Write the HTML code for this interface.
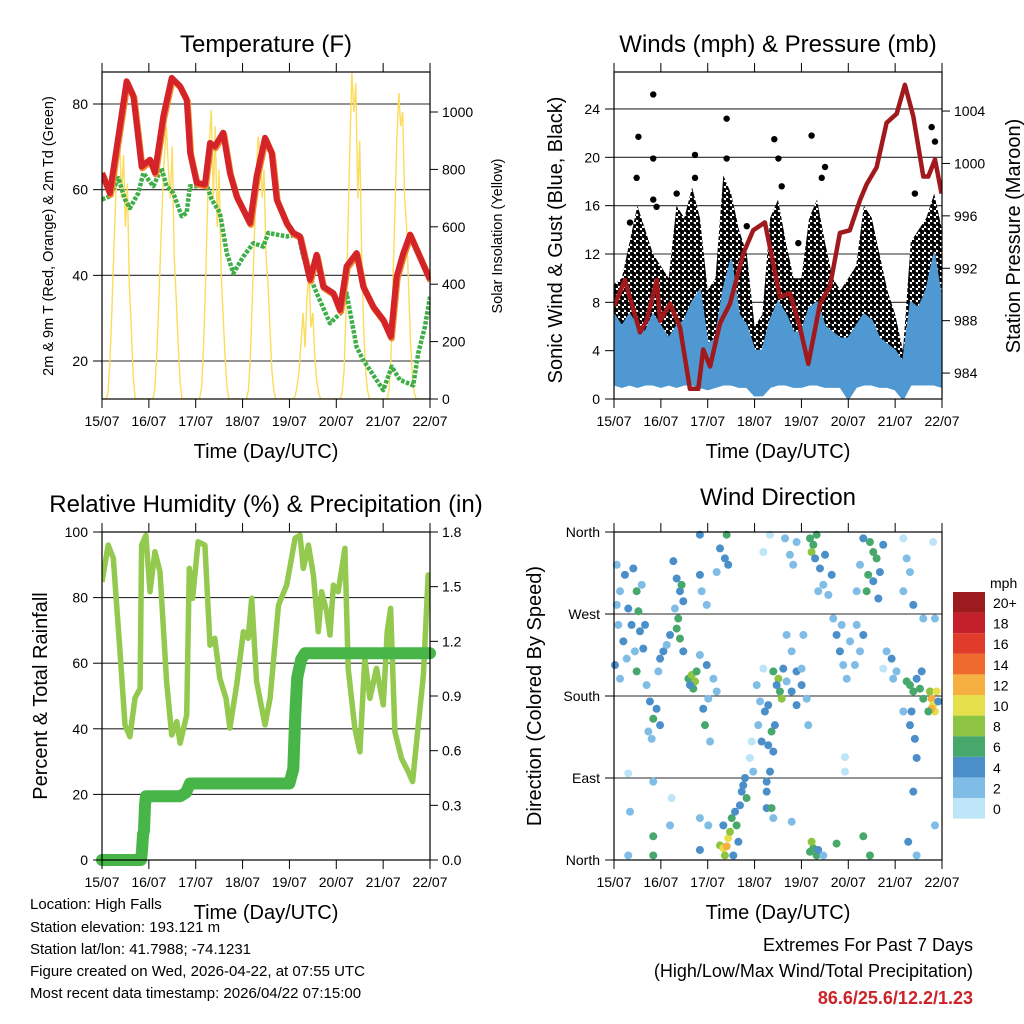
<!DOCTYPE html>
<html><head><meta charset="utf-8"><title>Station Meteogram</title>
<style>
html,body{margin:0;padding:0;background:#fff;}
svg{display:block;font-family:"Liberation Sans",Arial,sans-serif;}
</style></head>
<body>
<svg id="chart" width="1024" height="1024" viewBox="0 0 1024 1024" xmlns="http://www.w3.org/2000/svg">
<defs>
<clipPath id="clip1"><rect x="102" y="72" width="328" height="327"/></clipPath>
<clipPath id="clip2"><rect x="614" y="72" width="328" height="327"/></clipPath>
<clipPath id="clip3"><rect x="102" y="532" width="328" height="328"/></clipPath>
<clipPath id="clip4"><rect x="610" y="528" width="336" height="336"/></clipPath>
<pattern id="gustDots" width="6" height="6" patternUnits="userSpaceOnUse">
<rect width="6" height="6" fill="#fff"/>
<circle cx="1.5" cy="1.5" r="2.5" fill="#000"/>
<circle cx="4.5" cy="4.5" r="2.5" fill="#000"/>
</pattern>
</defs>
<rect x="0" y="0" width="1024" height="1024" fill="#fff"/>
<g id="layer-grid"></g>
<g id="layer-data"></g>
<g id="layer-axes"></g>

<text x="266" y="52" font-size="24" text-anchor="middle">Temperature (F)</text>
<text x="778" y="52" font-size="24" text-anchor="middle">Winds (mph) &amp; Pressure (mb)</text>
<text x="266" y="512" font-size="24" text-anchor="middle">Relative Humidity (%) &amp; Precipitation (in)</text>
<text x="778" y="505" font-size="24" text-anchor="middle">Wind Direction</text>

<text x="266" y="458" font-size="20" text-anchor="middle">Time (Day/UTC)</text>
<text x="778" y="458" font-size="20" text-anchor="middle">Time (Day/UTC)</text>
<text x="266" y="919" font-size="20" text-anchor="middle">Time (Day/UTC)</text>
<text x="778" y="919" font-size="20" text-anchor="middle">Time (Day/UTC)</text>

<text transform="translate(53,236) rotate(-90)" font-size="14.5" text-anchor="middle">2m &amp; 9m T (Red, Orange) &amp; 2m Td (Green)</text>
<text transform="translate(502,236) rotate(-90)" font-size="14.5" text-anchor="middle">Solar Insolation (Yellow)</text>
<text transform="translate(562,240) rotate(-90)" font-size="20" text-anchor="middle">Sonic Wind &amp; Gust (Blue, Black)</text>
<text transform="translate(1020,236) rotate(-90)" font-size="20" text-anchor="middle">Station Pressure (Maroon)</text>
<text transform="translate(47,696) rotate(-90)" font-size="20" text-anchor="middle">Percent &amp; Total Rainfall</text>
<text transform="translate(541,696) rotate(-90)" font-size="20" text-anchor="middle">Direction (Colored By Speed)</text>

<g font-size="15">
<text x="30" y="909">Location: High Falls</text>
<text x="30" y="932">Station elevation: 193.121 m</text>
<text x="30" y="954">Station lat/lon: 41.7988; -74.1231</text>
<text x="30" y="976">Figure created on Wed, 2026-04-22, at 07:55 UTC</text>
<text x="30" y="998">Most recent data timestamp: 2026/04/22 07:15:00</text>
</g>
<g font-size="18" text-anchor="end">
<text x="973" y="951">Extremes For Past 7 Days</text>
<text x="973" y="977">(High/Low/Max Wind/Total Precipitation)</text>
<text x="973" y="1004" font-weight="bold" fill="#cc2229">86.6/25.6/12.2/1.23</text>
</g>
<g id="legend">
<text x="990" y="588" font-size="14">mph</text>
</g>
</svg>

<script>
// ---------- DATA ----------
const dayLabels = ['15/07','16/07','17/07','18/07','19/07','20/07','21/07','22/07'];
const tempTicks = [20,40,60,80];
const solarTicks = [0,200,400,600,800,1000];
const windTicks = [0,4,8,12,16,20,24];
const pressTicks = [984,988,992,996,1000,1004];
const rhTicks = [0,20,40,60,80,100];
const precipTicks = ['0.0','0.3','0.6','0.9','1.2','1.5','1.8'];
const dirTicks = ['North','East','South','West','North'];
const speedBins = ['0','2','4','6','8','10','12','14','16','18','20+'];
const speedColors = ['#bde4f7','#80bde6','#4b8fca','#47a86c','#8dc441','#e6e04c','#f6b042','#ee6a2d','#e03b2b','#c4202b','#9b1b1f'];

// Temperature (F), hours since 15/07 00 UTC
const tempHours = [0,4,8.4,12.6,16.1,20.3,24.6,27.1,31.4,35.7,39.9,43.4,45.1,48.5,52.7,55.3,57.8,62.1,65.5,69,75.8,79.2,83.5,86.9,89.5,94.6,98,101.4,106.5,109.9,113.3,118.5,121.9,125.3,130.4,133.8,138.9,144.1,147.9,150.9,154.3,157.8,161.2,165.4,168];
const tempVals  = [63.9,59.2,72.5,85.3,81.8,65.4,67,64,77.1,86.1,84.2,81,68.6,61.6,61.2,70.9,70.1,73.3,63.9,58.4,52.2,63.1,72.1,68.6,57.7,52.2,49.9,49.1,39,44.8,37.4,35.8,31.9,42.1,45.2,37.4,32.7,29.6,25.7,39.7,45.2,49.5,46,41.7,39];
const dewHours = [0,4,8.4,11.8,14.3,18.6,21.2,26.3,30.5,33.1,36.5,40.8,43.4,45,49,53.6,56.2,60.4,63.9,67.3,72.4,77.5,82.6,85.2,89.5,94.6,100.6,103.1,106.5,110,116.8,121.9,125.3,130.4,133.8,137.2,144.1,148.4,152.6,159.4,162,165.4,168];
const dewVals  = [57.7,58.5,62.7,57.7,55.7,59.2,63.9,60.8,65,60.8,59.2,53.8,54.6,60.8,60.8,61.2,57.7,54.6,45.2,40.5,44.4,47.5,46.7,49.9,49.5,49.1,49.5,44.4,39.7,35.8,28.8,31.1,35.8,23.3,20.2,17.9,13.2,18.7,15.6,14.3,21.9,28,35];
// Solar insolation (W/m2), hourly
const solarDay0 = [0,0,0,20,120,300,500,700,820,914,700,850,600,750,400,250,80,0,0,0,0,0,0,0];
const solarDay1 = [0,0,0,30,150,320,520,700,850,950,800,700,880,500,350,200,60,0,0,0,0,0,0,0];
const solarDay2 = [0,0,0,40,180,400,650,900,1007,700,950,600,800,450,300,150,40,0,0,0,0,0,0,0];
const solarDay3 = [0,0,0,30,150,350,550,780,914,850,700,800,500,400,250,100,30,0,0,0,0,0,0,0];
const solarDay4 = [0,0,0,10,50,100,200,300,180,350,438,250,300,150,60,20,0,0,0,0,0,0,0,0];
const solarDay5 = [0,0,0,20,100,300,600,900,1136,1000,1100,700,900,500,250,100,30,0,0,0,0,0,0,0];
const solarDay6 = [0,0,0,30,150,400,650,900,1066,950,1000,700,600,400,200,80,20,0,0,0,0,0,0,0];

// Winds (mph), 4-hourly envelopes
const gustHi = [9.5,10,13,16,14,12,11,10,16,15,17.5,15,9,10,18.5,17,14,12,6,7,15,16.5,13,10,10,15,16.5,13,10,9,10,11,16,15,12,9,7,4,13,14,15,17,14];
const gustLo = [3,3,3,3,3,3,3,3,3,3,3,3,2.5,2.5,3,3,3,3,1.5,1.5,3,3,3,3,3,3,3,3,3,3,2.5,3,3,3,3,2.5,2,1.5,3,3,3,3,3];
const windHi = [7,6,7,6,5.5,7,6,5,6,6.5,8,9,4.5,5,9,11.5,7,6,4,4,6.5,8,7,5.5,5.5,7.5,8,6,5.5,5,5,6,7,6.5,5,4.5,4,3,8,7.5,9,12,8];
const windLo = [1.2,1,1.2,1,1.2,1.2,1,1.2,1,1.2,1.2,1,0.8,1,1.2,1.2,1,1,0.3,0.3,1,1.2,1.2,1,1,1.2,1.2,1,1,1,0,1,1.2,1.2,1,1,0.8,0,1.2,1.2,1.2,1.2,1];
const gustOutHours = [20.1,12.5,57.7,82.1,101.2,41.5,20.1,84.2,108.1,162.7,164.4,154.1,20.1,8.2,94.4,11.6,57.7,41.5,106.4,85.9,68,32.1,21.8];
const gustOutVals  = [25.2,21.7,23.2,21.5,21.8,20.2,19.9,19.9,19.2,22.5,21.3,17,16.5,14.6,12.9,18.3,19.9,18.3,18.3,17.6,14.3,17,15.9];
// Pressure (mb)
const pressHours = [0,5.6,13.3,16.7,21.9,23.6,28.7,33.8,38.9,43.2,45.7,49.2,54.3,59.4,66.2,71.3,77.3,85,90.1,95.2,99.5,105.5,110.6,115.7,120.8,126,129.4,134.5,139.6,144.8,149,153.3,158.4,161,164.4,167.8];
const pressVals  = [989.1,991.1,987.1,988,991.1,988,989.3,987.5,982.8,982.8,985.8,984.5,987.8,989.3,993.1,994.9,995.5,989.8,990.1,987.5,984.7,989.3,990.6,994.7,994.9,997.2,998.4,999.7,1003.1,1003.8,1006,1003.6,999,999,1000.3,997.7];

// Relative humidity (%) and precipitation (in)
const rhHours = [0,3.2,5.8,9.2,11.8,14.3,16.9,19.5,20.3,22.5,24.6,27.1,29.7,33.1,35.7,38.3,40,43.4,44.7,46.4,49.2,52.7,55.3,57.8,60.4,63.5,65.5,69,72.4,74.9,76.7,79.2,83.5,86.1,90.4,94.6,98.9,101.4,103.1,105.7,108.3,110.8,112.5,115.1,116.8,118.5,121,124.4,126.1,129.5,132.1,134.6,137.2,140.6,144.1,146.1,147.8,150,153.4,156.9,159.1,162,164.6,167.1,168];
const rhVals  = [84.8,96,92,63.5,41.2,37.6,49.4,52.3,96,99,81.8,94,87.9,54.4,38.1,42.2,35.6,44.2,88.9,79.8,97,96,65.5,67.6,55.3,49.3,40.2,53.4,69.6,67.6,79.8,54.4,41.2,49.3,77.7,83.8,98.1,99,88.9,96,86.9,69.6,81.8,75.7,68.6,83.8,81.8,95,58.4,40.2,33,61.5,49.3,58.4,47.3,69.6,76.7,39.1,31,26.9,23.9,41.2,56.4,86.9,80];
const precipHours = [0,20,20.5,21,21.5,22,22.5,40,43,45,96,98,99,100,102,104,168];
const precipVals  = [0,0,0.05,0.14,0.16,0.3,0.35,0.35,0.37,0.42,0.42,0.5,0.8,1.0,1.1,1.135,1.135];

// Wind direction observations
const dirHours = [1.4,3.1,5.6,2.2,4.8,0.5,3.1,6.5,1.4,7.3, 9.9,11.6,12.5,13.3,15,10.7,14.2,9,11.6,15.9, 16.7,18.4,20.1,21.8,19.3,23.6,17.6, 23.6,25.3,27,28.7,22.7, 30.4,32.1,33.8,34.6,32.9,35.5,31.2, 32.1,33.8,35.5, 38.1,39.8,41.5,40.6,42.3,38.9, 44,47.5,50.9,45.7,46.6,49.2,52.6,48.3, 44,44,47.5,44.9, 54.3,56.8,57.7,58.5,52.6, 54.3,56,57.7,58.5,56.8,59.4,60.3,62,62.8,64.5,65.4,66.2,67.1,67.9,63.7,61.1,56,48.3,44, 69.6,70.5,71.3, 73.1,73.9,75.6,74.8,76.5, 77.3,79,80.7,81.6,79.9,78.2,78.2,81.6,79,82.4,80.7,78.2, 81.6,84.2,85,85.9,83.3,86.7,88.4, 88.4,91,93.5,96.1,98.7,99.5,93.5,96.1,91,97, 87.6,90.1,93.5,91.8,79.9,76.5, 100.4,102.1,103.8,101.2,103,105.5,107.2,109.8,104.6,108.1,111.5, 112.3,114,115.7,117.4,119.2,120.9,116.6, 100.4,102.1,103.8,101.2,104.6,107.2,114, 127.7,131.1,132.8,134.5,130.2,129.4,132.8,135.4,126,137.9,136.2,124.3, 124.3,126,127.7,123.4, 139.6,142.2,144.7,143,137.9, 149.9,151.6,153.3,155,156.7,152.4,154.1,155,148.2,151.6,158.4,157.6, 161.8,162.7,163.5,164.4,162.7,165.2,161,166.1, 148.2,149.9,151.6,148.2,158.4,164.4,163.5,153.3, 7.3,20.1,20.1,8.2,29.5,28.7,44,91,127.7,131.1,150.7,153.3,118.3,118.3,7.3,20.1,155,164.4];
const dirDegs = [324,295,313,258,240,214,199,221,280,276, 320,295,273,251,232,229,302,258,207,258, 192,174,155,166,133,148,141, 221,229,236,247,207, 328,309,295,302,265,284,276, 254,243,229, 199,203,196,188,207,192, 225,214,199,166,148,130,185,177, 357,313,280,295, 342,331,357,324,316, 16,13,15,24,5,31,46,53,38,60,75,82,90,68,20,5,38,38,11, 112,130,97, 192,148,130,174,210, 163,170,141,119,97,75,57,46,126,148,57,86, 207,199,185,177,192,210,196, 247,229,207,192,177,148,170,210,185,247, 353,335,349,324,357,338, 353,346,357,338,331,320,302,291,295,335,313, 265,247,229,214,199,240,258, 9,13,5,20,11,5,18, 353,349,338,331,313,295,306,287,324,346,316,295, 258,229,247,214, 229,221,207,199,210, 196,192,185,199,188,163,133,112,163,148,177,207, 185,177,170,163,166,185,163,174, 353,331,316,295,265,265,349,280, 5,5,26,53,68,38,46,42,26,5,20,75,113,97,95,86,5,38];
const dirSpeeds = [2,2,4,2,4,4,2,2,2,4, 4,6,6,4,4,2,2,4,6,4, 2,4,6,4,2,4,2, 4,4,2,4,2, 4,4,4,6,6,4,2, 6,6,4, 6,8,8,6,6,4, 2,4,2,4,6,2,2,2, 4,4,2,2, 4,4,6,4,2, 8,10,12,10,8,8,6,4,6,4,4,4,4,6,4,4,4,2,4, 0,0,2, 2,2,4,2,0, 4,4,6,4,4,4,4,2,4,4,6,4, 6,8,6,8,4,4,2, 2,2,4,4,2,2,4,2,4,2, 2,2,2,2,0,0, 6,6,6,8,4,4,2,2,2,4,4, 2,4,4,2,2,2,2, 6,6,6,8,4,2,6, 4,6,6,6,6,6,4,4,2,4,4,2, 2,2,4,2, 2,4,2,2,0, 6,6,6,4,6,4,4,4,2,4,6,4, 8,12,10,10,12,10,6,4, 0,2,2,2,2,2,0,4, 2,6,6,2,0,2,2,2,6,6,4,4,0,0,0,2,2,2];

// ---------- LAYOUT ----------
const NS = 'http://www.w3.org/2000/svg';
const P1 = {x0:102,x1:430,y0:72,y1:399,clip:'url(#clip1)'};
const P2 = {x0:614,x1:942,y0:72,y1:399,clip:'url(#clip2)'};
const P3 = {x0:102,x1:430,y0:532,y1:860,clip:'url(#clip3)'};
const P4 = {x0:614,x1:942,y0:532,y1:860,clip:'url(#clip4)'};
const gGrid = document.getElementById('layer-grid');
const gData = document.getElementById('layer-data');
const gAxes = document.getElementById('layer-axes');

function xScale(P, h){ return P.x0 + h/168*(P.x1-P.x0); }
function yScale(P, v, lo, hi){ return P.y1 - (v-lo)/(hi-lo)*(P.y1-P.y0); }
function mk(tag, parent){ const e = document.createElementNS(NS, tag); parent.appendChild(e); return e; }
function pts(P, hs, vs, lo, hi){ return hs.map((h,i)=>xScale(P,h).toFixed(1)+','+yScale(P,vs[i],lo,hi).toFixed(1)).join(' '); }

const T_LO=11.13,T_HI=87.47,S_LO=0,S_HI=1139.4,W_LO=0,W_HI=27.06,PR_LO=982.02,PR_HI=1006.98,RH_LO=0,RH_HI=100,PC_LO=0,PC_HI=1.8,D_LO=0,D_HI=360;

// ---------- FRAMES, TICKS, GRID ----------
[P1,P2,P3,P4].forEach((P,pi)=>{
  dayLabels.forEach((lab,d)=>{
    const x = xScale(P, d*24);
    const t1 = mk('line', gAxes);
    
    
    t1.setAttribute('x1',x);t1.setAttribute('x2',x);t1.setAttribute('y1',P.y0-9);t1.setAttribute('y2',P.y0);t1.setAttribute('stroke','#000');t1.setAttribute('stroke-width','1');
    const t2 = mk('line', gAxes);
    
    
    t2.setAttribute('x1',x);t2.setAttribute('x2',x);t2.setAttribute('y1',P.y1);t2.setAttribute('y2',P.y1+9);t2.setAttribute('stroke','#000');t2.setAttribute('stroke-width','1');
    const tx = mk('text', gAxes);
    
    
    tx.setAttribute('x',x);tx.setAttribute('y',P.y1+27);tx.setAttribute('font-size','14');tx.setAttribute('text-anchor','middle');
    tx.textContent = lab;
  });
  const fr = mk('rect', gAxes);
  
  
  fr.setAttribute('x',P.x0);fr.setAttribute('y',P.y0);fr.setAttribute('width',P.x1-P.x0);fr.setAttribute('height',P.y1-P.y0);fr.setAttribute('fill','none');fr.setAttribute('stroke','#000');fr.setAttribute('stroke-width','1.2');
});

function leftAxis(P, ticks, lo, hi, grid, labels){
  ticks.forEach((v,i)=>{
    const y = yScale(P, v, lo, hi);
    const t = mk('line', gAxes);
    
    
    t.setAttribute('x1',P.x0-9);t.setAttribute('x2',P.x0);t.setAttribute('y1',y);t.setAttribute('y2',y);t.setAttribute('stroke','#000');
    if(grid && y>P.y0+2 && y<P.y1-2){
      const g = mk('line', gGrid);
      
      
      g.setAttribute('x1',P.x0);g.setAttribute('x2',P.x1);g.setAttribute('y1',y);g.setAttribute('y2',y);g.setAttribute('stroke','#2a2a2a');g.setAttribute('stroke-width','1.1');
    }
    const tx = mk('text', gAxes);
    
    
    tx.setAttribute('x',P.x0-14);tx.setAttribute('y',y+5);tx.setAttribute('font-size','14');tx.setAttribute('text-anchor','end');
    tx.textContent = labels ? labels[i] : String(v);
  });
}
function rightAxis(P, ticks, lo, hi, labels, fs){
  ticks.forEach((v,i)=>{
    const y = yScale(P, v, lo, hi);
    const t = mk('line', gAxes);
    
    
    t.setAttribute('x1',P.x1);t.setAttribute('x2',P.x1+8);t.setAttribute('y1',y);t.setAttribute('y2',y);t.setAttribute('stroke','#000');
    const tx = mk('text', gAxes);
    
    
    tx.setAttribute('x',P.x1+12);tx.setAttribute('y',y+5);tx.setAttribute('font-size',fs||'14');
    tx.textContent = labels ? labels[i] : String(v);
  });
}
leftAxis(P1, tempTicks, T_LO, T_HI, true);
rightAxis(P1, solarTicks, S_LO, S_HI);
leftAxis(P2, windTicks, W_LO, W_HI, true);
rightAxis(P2, pressTicks, PR_LO, PR_HI);
leftAxis(P3, rhTicks, RH_LO, RH_HI, true);
rightAxis(P3, precipTicks.map(Number), PC_LO, PC_HI, precipTicks);
leftAxis(P4, [0,90,180,270,360], D_LO, D_HI, true, dirTicks);

// ---------- TEMPERATURE PANEL ----------
const solarAll = [].concat(solarDay0,solarDay1,solarDay2,solarDay3,solarDay4,solarDay5,solarDay6);
const solarHours = solarAll.map((v,i)=>i);
const solarLine = mk('polyline', gData);


solarLine.setAttribute('points', pts(P1, solarHours, solarAll, S_LO, S_HI));
solarLine.setAttribute('fill','none');solarLine.setAttribute('stroke','#fbdc5c');solarLine.setAttribute('stroke-width','1.4');solarLine.setAttribute('clip-path',P1.clip);

const dewLine = mk('polyline', gData);


dewLine.setAttribute('points', pts(P1, dewHours, dewVals, T_LO, T_HI));
dewLine.setAttribute('fill','none');dewLine.setAttribute('stroke','#3fae49');dewLine.setAttribute('stroke-width','4.5');dewLine.setAttribute('stroke-dasharray','3.5 1.5');dewLine.setAttribute('stroke-linejoin','round');dewLine.setAttribute('clip-path',P1.clip);

const t9Line = mk('polyline', gData);


t9Line.setAttribute('points', pts(P1, tempHours, tempVals, T_LO, T_HI));
t9Line.setAttribute('fill','none');t9Line.setAttribute('stroke','#f08a30');t9Line.setAttribute('stroke-width','6.5');t9Line.setAttribute('stroke-linejoin','round');t9Line.setAttribute('transform','translate(0.8,1.6)');t9Line.setAttribute('clip-path',P1.clip);

const t2Line = mk('polyline', gData);


t2Line.setAttribute('points', pts(P1, tempHours, tempVals, T_LO, T_HI));
t2Line.setAttribute('fill','none');t2Line.setAttribute('stroke','#d42329');t2Line.setAttribute('stroke-width','6');t2Line.setAttribute('stroke-linejoin','round');t2Line.setAttribute('clip-path',P1.clip);

// ---------- WIND PANEL ----------
const envHours = gustHi.map((v,i)=>i*4);
function band(P, hs, lo, hi, vLo, vHi){
  const top = hs.map((h,i)=>xScale(P,h).toFixed(1)+','+yScale(P,hi[i],vLo,vHi).toFixed(1));
  const bot = hs.map((h,i)=>xScale(P,h).toFixed(1)+','+yScale(P,lo[i],vLo,vHi).toFixed(1)).reverse();
  return top.concat(bot).join(' ');
}
const gustBand = mk('polygon', gData);


gustBand.setAttribute('points', band(P2, envHours, gustLo, gustHi, W_LO, W_HI));
gustBand.setAttribute('fill','url(#gustDots)');gustBand.setAttribute('stroke','none');gustBand.setAttribute('clip-path',P2.clip);

gustOutHours.forEach((h,i)=>{
  const c = mk('circle', gData);
  
  
  c.setAttribute('cx', xScale(P2,h));c.setAttribute('cy', yScale(P2,gustOutVals[i],W_LO,W_HI));c.setAttribute('r','3.2');c.setAttribute('fill','#000');
});

const windBand = mk('polygon', gData);


windBand.setAttribute('points', band(P2, envHours, windLo, windHi, W_LO, W_HI));
windBand.setAttribute('fill','#4f98d2');windBand.setAttribute('stroke','#4f98d2');windBand.setAttribute('stroke-width','2');windBand.setAttribute('stroke-linejoin','round');windBand.setAttribute('clip-path',P2.clip);

const pressLine = mk('polyline', gData);


pressLine.setAttribute('points', pts(P2, pressHours, pressVals, PR_LO, PR_HI));
pressLine.setAttribute('fill','none');pressLine.setAttribute('stroke','#a0191d');pressLine.setAttribute('stroke-width','4.5');pressLine.setAttribute('stroke-linejoin','round');pressLine.setAttribute('clip-path',P2.clip);

// ---------- HUMIDITY PANEL ----------
const rhLine = mk('polyline', gData);


rhLine.setAttribute('points', pts(P3, rhHours, rhVals, RH_LO, RH_HI));
rhLine.setAttribute('fill','none');rhLine.setAttribute('stroke','#93c94f');rhLine.setAttribute('stroke-width','5.5');rhLine.setAttribute('stroke-linejoin','round');rhLine.setAttribute('clip-path',P3.clip);

const pcLine = mk('polyline', gData);


pcLine.setAttribute('points', pts(P3, precipHours, precipVals, PC_LO, PC_HI));
pcLine.setAttribute('fill','none');pcLine.setAttribute('stroke','#48b548');pcLine.setAttribute('stroke-width','12');pcLine.setAttribute('stroke-linejoin','round');pcLine.setAttribute('stroke-linecap','round');

// ---------- WIND DIRECTION PANEL ----------
dirHours.forEach((h,i)=>{
  const bin = Math.min(10, Math.floor(dirSpeeds[i]/2));
  const c = mk('circle', gData);
  
  
  c.setAttribute('cx', xScale(P4,h));c.setAttribute('cy', yScale(P4,dirDegs[i],D_LO,D_HI));c.setAttribute('r','4');c.setAttribute('fill',speedColors[bin]);c.setAttribute('clip-path',P4.clip);
});

// ---------- LEGEND ----------
const gLeg = document.getElementById('legend');
speedBins.forEach((lab,i)=>{
  const k = speedBins.length-1-i;
  const y = 592 + k*20.6;
  const r = mk('rect', gLeg);
  
  
  r.setAttribute('x','953');r.setAttribute('y',y);r.setAttribute('width','32');r.setAttribute('height','20.6');r.setAttribute('fill',speedColors[i]);
  const t = mk('text', gLeg);
  
  
  t.setAttribute('x','993');t.setAttribute('y',y+16);t.setAttribute('font-size','14');
  t.textContent = lab;
});
</script>
</body></html>
